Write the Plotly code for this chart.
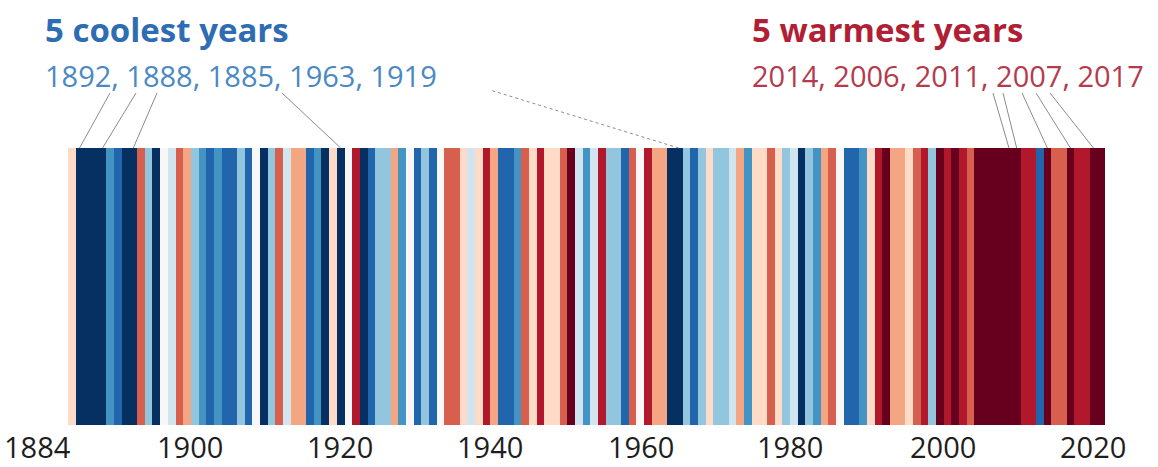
import plotly.graph_objects as go

# ---------------- data ----------------
first_year = 1884
last_year = 2018
years = list(range(first_year, last_year + 1))

# anomaly class per year (-5 = coolest class ... +5 = warmest class), read from the stripes
levels_1884_1919 = [1, -5, -5, -5, -5, -3, -4, -5, -5, 3, -2, -5, 0, -1, 3, 2, -2, -3, -4, -3,
                    -4, -4, -2, -4, 0, -5, -2, 3, -1, 2, 2, -4, -3, -5, 1, -5]
levels_1920_1959 = [0, 4, -5, -4, -2, -2, 2, -3, 0, -4, -2, -4, 0, 3, 3, 1, -1, 1, 4, 2,
                    -4, -4, -3, 3, 1, 4, 1, 1, 3, 5, -1, -3, -1, 4, -2, -2, -4, 3, 0, 4]
levels_1960_1999 = [2, 2, -5, -5, -2, -4, -2, 1, -2, -2, -1, 2, -3, 1, 1, 3, 1, -2, -1, -5,
                    -2, -3, 2, 3, 0, -4, -4, -3, 1, 4, 5, 2, 2, 1, 3, 4, -2, 5, 4, 5]
levels_2000_2018 = [4, 3, 5, 5, 5, 5, 5, 5, 4, 4, -4, 5, 3, 3, 5, 4, 4, 5, 5]
levels = levels_1884_1919 + levels_1920_1959 + levels_1960_1999 + levels_2000_2018

palette = ["#053061", "#2166ac", "#4393c3", "#92c5de", "#d1e5f0", "#f7f7f7",
           "#fddbc7", "#f4a582", "#d6604d", "#b2182b", "#67001f"]

axis_labels = [1884, 1900, 1920, 1940, 1960, 1980, 2000, 2020]
coolest_years = [1892, 1888, 1885, 1963, 1919]
warmest_years = [2014, 2006, 2011, 2007, 2017]

# ---------------- layout geometry ----------------
W, H = 1158, 467
L, R, T, B = 68, 53, 148, 42
PW, PH = W - L - R, H - T - B
n_years = len(years)


def year_paper(y):
    return (y + 0.5 - first_year) / n_years


def px_x(px):
    return (px - L) / PW


def px_y(py):
    return (H - B - py) / PH


# discrete colorscale
cs = []
for i, c in enumerate(palette):
    cs.append([i / len(palette), c])
    cs.append([(i + 1) / len(palette), c])

fig = go.Figure(go.Heatmap(
    z=[levels], x=[y + 0.5 for y in years], y=[0],
    colorscale=cs, zmin=-5.5, zmax=5.5, showscale=False, hoverinfo="x+z",
))

font_family = "Open Sans, Lato, sans-serif"
cool_title = "#2f6db3"
cool_text = "#4c89c2"
warm_title = "#b01f36"
warm_text = "#b63a4d"

annotations = [
    dict(text="<b>5 coolest years</b>", x=px_x(43), y=px_y(30), xref="paper", yref="paper",
         xanchor="left", yanchor="middle", showarrow=False,
         font=dict(size=33, color=cool_title, family=font_family)),
    dict(text=", ".join(str(y) for y in coolest_years), x=px_x(43), y=px_y(75), xref="paper",
         yref="paper", xanchor="left", yanchor="middle", showarrow=False,
         font=dict(size=29, color=cool_text, family=font_family)),
    dict(text="<b>5 warmest years</b>", x=px_x(750), y=px_y(30), xref="paper", yref="paper",
         xanchor="left", yanchor="middle", showarrow=False,
         font=dict(size=33, color=warm_title, family=font_family)),
    dict(text=", ".join(str(y) for y in warmest_years), x=px_x(750), y=px_y(75), xref="paper",
         yref="paper", xanchor="left", yanchor="middle", showarrow=False,
         font=dict(size=29, color=warm_text, family=font_family)),
]

# axis labels (designed spacing, slightly tighter than the stripes)
label_px = {1884: 37, 1900: 190, 1920: 340, 1940: 490, 1960: 641, 1980: 790, 2000: 943, 2020: 1093}
for lab in axis_labels:
    annotations.append(dict(text=str(lab), x=px_x(label_px[lab]), y=px_y(446), xref="paper",
                            yref="paper", xanchor="center", yanchor="middle", showarrow=False,
                            font=dict(size=29, color="#1e1e1e", family=font_family)))

# connector lines (tail px positions under the labels)
cool_tails = {1885: 110, 1888: 136, 1892: 157, 1919: 282}
warm_tails = {2006: 993, 2007: 1003, 2011: 1022, 2014: 1036, 2017: 1050}
shapes = []
for yr, tx in list(cool_tails.items()) + list(warm_tails.items()):
    shapes.append(dict(type="line", xref="paper", yref="paper",
                       x0=year_paper(yr), y0=1.0, x1=px_x(tx), y1=px_y(93),
                       line=dict(color="#8c8c8c", width=1)))
shapes.append(dict(type="line", xref="paper", yref="paper",
                   x0=year_paper(1963), y0=1.0, x1=px_x(490), y1=px_y(90),
                   line=dict(color="#8c8c8c", width=1, dash="dot")))

fig.update_layout(
    width=W, height=H,
    margin=dict(l=L, r=R, t=T, b=B, pad=0),
    paper_bgcolor="white", plot_bgcolor="white",
    xaxis=dict(range=[first_year, last_year + 1], visible=False, fixedrange=True),
    yaxis=dict(range=[-0.5, 0.5], visible=False, fixedrange=True),
    annotations=annotations, shapes=shapes,
    showlegend=False,
)

fig.write_html("out.html", config={"displayModeBar": False})

# remove the default page margin so the figure sits at the window's top-left corner
with open("out.html", encoding="utf-8") as f:
    html = f.read()
html = html.replace("<body>", '<body style="margin:0;padding:0;overflow:hidden">', 1)
with open("out.html", "w", encoding="utf-8") as f:
    f.write(html)
